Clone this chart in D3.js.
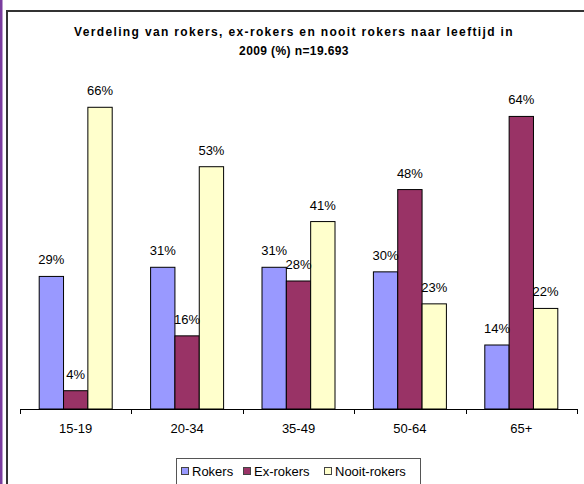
<!DOCTYPE html>
<html>
<head>
<meta charset="utf-8">
<script src="https://cdn.jsdelivr.net/npm/d3@7"></script>
<style>
  html, body { margin: 0; padding: 0; background: #fff; }
  svg text { font-family: "Liberation Sans", Arial, sans-serif; fill: #000; }
</style>
</head>
<body>
<svg id="chart" width="584" height="484"></svg>
<script>
// Data
const categories = ['15-19', '20-34', '35-49', '50-64', '65+'];
const seriesNames = ['Rokers', 'Ex-rokers', 'Nooit-rokers'];
const rokers = [29, 31, 31, 30, 14];
const exRokers = [4, 16, 28, 48, 64];
const nooitRokers = [66, 53, 41, 23, 22];
const seriesColors = ['#9999ff', '#993366', '#ffffcc'];

const series = [rokers, exRokers, nooitRokers];

const svg = d3.select('#chart');

// purple strip on the left edge + chart frame
svg.append('rect')
  .attr('x', 0).attr('y', 0).attr('width', 2.5).attr('height', 484)
  .attr('fill', '#7a3d9e');
svg.append('path')
  .attr('d', 'M7,484V11H584')
  .attr('fill', 'none')
  .attr('stroke', '#333')
  .attr('stroke-width', 2);

// title
const title = svg.append('text')
  .attr('text-anchor', 'middle')
  .style('font-weight', 'bold')
  .style('font-size', '12px')
  .style('letter-spacing', '1.35px');
title.append('tspan').attr('x', 294).attr('y', 36)
  .text('Verdeling van rokers, ex-rokers en nooit rokers naar leeftijd in');
title.append('tspan').attr('x', 294).attr('y', 55)
  .style('letter-spacing', '0.4px')
  .text('2009 (%) n=19.693');

// scales
const x = d3.scaleBand().domain(categories).range([20, 577]);
const groupWidth = 73;
const x1 = d3.scaleBand().domain(d3.range(seriesNames.length)).range([0, groupWidth]);
const y = d3.scaleLinear().domain([0, 70]).range([409, 89]);

// bars and labels
const groups = svg.append('g').selectAll('g')
  .data(categories)
  .join('g')
  .attr('transform', c => `translate(${x(c) + (x.bandwidth() - groupWidth) / 2},0)`);

groups.each(function(c, i) {
  const g = d3.select(this);
  series.forEach((vals, s) => {
    g.append('rect')
      .attr('x', x1(s))
      .attr('y', y(vals[i]))
      .attr('width', x1.bandwidth())
      .attr('height', y(0) - y(vals[i]))
      .attr('fill', seriesColors[s])
      .attr('stroke', '#000')
      .attr('stroke-width', 1);
  });
  series.forEach((vals, s) => {
    g.append('text')
      .attr('x', x1(s) + x1.bandwidth() / 2)
      .attr('y', y(vals[i]) - 12)
      .attr('text-anchor', 'middle')
      .style('font-size', '13px')
      .text(vals[i] + '%');
  });
});

// x axis: baseline, boundary ticks, category labels
const axis = svg.append('g');
axis.append('line')
  .attr('x1', x.range()[0]).attr('x2', x.range()[1])
  .attr('y1', y(0) + 0.5).attr('y2', y(0) + 0.5)
  .attr('stroke', '#000');
const bounds = categories.map(c => x(c)).concat([x.range()[1]]);
axis.selectAll('.tick')
  .data(bounds)
  .join('line')
  .attr('x1', d => Math.round(d) + 0.5).attr('x2', d => Math.round(d) + 0.5)
  .attr('y1', y(0)).attr('y2', y(0) + 5)
  .attr('stroke', '#000');
axis.selectAll('.cat')
  .data(categories)
  .join('text')
  .attr('x', c => x(c) + x.bandwidth() / 2)
  .attr('y', 433)
  .attr('text-anchor', 'middle')
  .style('font-size', '13px')
  .text(c => c);

// legend
const legend = svg.append('g');
legend.append('rect')
  .attr('x', 176.5).attr('y', 458.5).attr('width', 244).attr('height', 40)
  .attr('fill', '#fff').attr('stroke', '#555');
const legendX = [181, 243, 324];
seriesNames.forEach((name, s) => {
  legend.append('rect')
    .attr('x', legendX[s] + 0.5).attr('y', 467.5).attr('width', 7).attr('height', 7)
    .attr('fill', seriesColors[s]).attr('stroke', '#444');
  legend.append('text')
    .attr('x', legendX[s] + 11).attr('y', 475.5)
    .style('font-size', '13px')
    .text(name);
});
</script>
</body>
</html>
